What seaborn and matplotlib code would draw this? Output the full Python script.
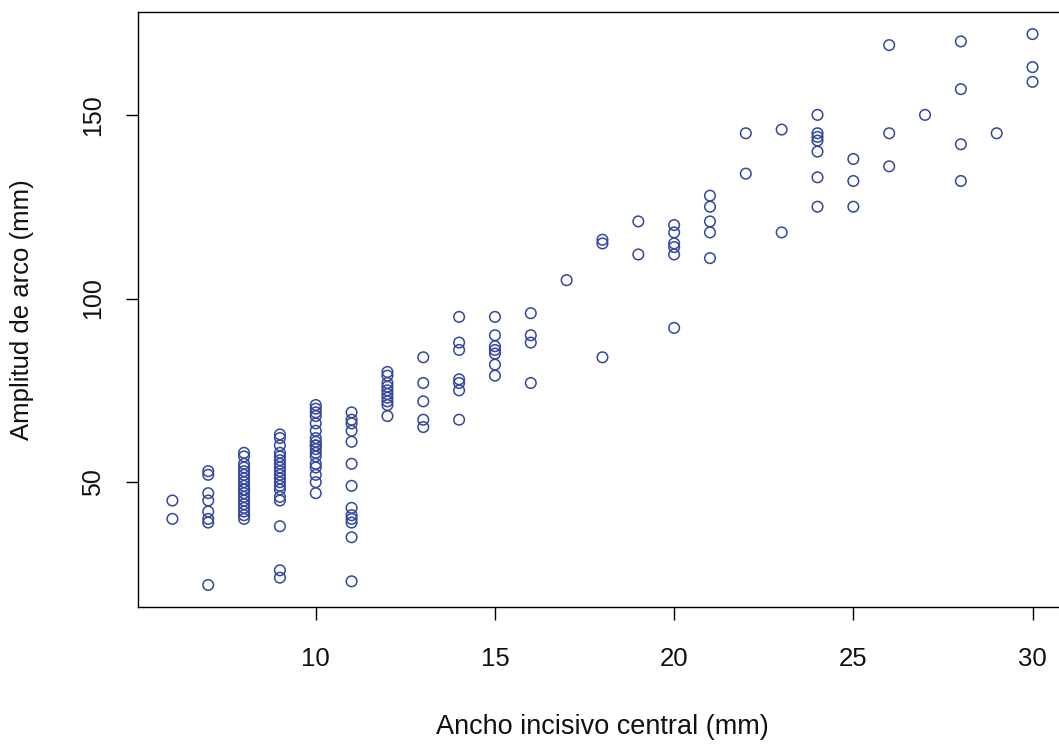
import matplotlib
matplotlib.use("Agg")
import matplotlib.pyplot as plt
import seaborn as sns
import pandas as pd

# Ancho incisivo central (mm) for each subject
ancho = (
    [6] * 2 + [7] * 8 + [8] * 20 + [9] * 19 + [10] * 18 + [11] * 13 + [12] * 10
    + [13] * 5 + [14] * 7 + [15] * 7 + [16] * 4 + [17] * 1 + [18] * 3 + [19] * 2
    + [20] * 6 + [21] * 5 + [22] * 2 + [23] * 2 + [24] * 7 + [25] * 3 + [26] * 3
    + [27] * 1 + [28] * 4 + [29] * 1 + [30] * 3
)

# Amplitud de arco (mm), same order as ancho
amplitud = [
    45, 40,
    53, 52, 47, 45, 42, 40, 39, 22,
    58, 57, 55, 54, 53, 52, 51, 50, 49, 48, 48, 48, 47, 46, 45, 44, 43, 42, 41, 40,
    63, 62, 60, 58, 57, 56, 55, 54, 53, 52, 51, 50, 49, 48, 46, 45, 38, 26, 24,
    71, 70, 69, 68, 66, 64, 62, 61, 60, 60, 59, 58, 57, 55, 54, 52, 50, 47,
    69, 67, 66, 64, 61, 55, 49, 43, 41, 40, 39, 35, 23,
    80, 79, 77, 76, 75, 74, 73, 72, 71, 68,
    84, 77, 72, 67, 65,
    95, 88, 86, 78, 77, 75, 67,
    95, 90, 87, 86, 85, 82, 79,
    96, 90, 88, 77,
    105,
    116, 115, 84,
    121, 112,
    120, 118, 115, 114, 112, 92,
    128, 125, 121, 118, 111,
    145, 134,
    146, 118,
    150, 145, 144, 143, 140, 133, 125,
    138, 132, 125,
    169, 145, 136,
    150,
    170, 157, 142, 132,
    145,
    172, 163, 159,
]

x_ticks = [10, 15, 20, 25, 30]
y_ticks = [50, 100, 150]

df = pd.DataFrame({"ancho": ancho, "amplitud": amplitud})

sns.set_style("ticks")
plt.rcParams["font.family"] = ["Liberation Sans", "DejaVu Sans"]

fig = plt.figure(figsize=(10.59, 7.44), dpi=100)
# plot region runs slightly past the right edge of the canvas
ax = fig.add_axes([0.1303, 0.1841, 0.8772, 0.7997])

point_color = "#34479E"
sns.scatterplot(
    data=df, x="ancho", y="amplitud", ax=ax,
    marker="o", s=58, facecolor="none", edgecolor=point_color, linewidth=1.1,
    legend=False,
)

ax.set_xlim(5.04, 30.96)
ax.set_ylim(16, 178)
ax.set_xticks(x_ticks)
ax.set_yticks(y_ticks)
ax.set_xticklabels([str(t) for t in x_ticks], fontsize=18.5)
ax.set_yticklabels([str(t) for t in y_ticks], fontsize=18, rotation=90, va="center")
ax.tick_params(axis="both", direction="out", length=9, width=1, color="black",
               labelcolor="#111111")
ax.tick_params(axis="x", pad=20)
ax.tick_params(axis="y", pad=15)

for side in ["left", "right", "top", "bottom"]:
    ax.spines[side].set_visible(True)
    ax.spines[side].set_color("black")
    ax.spines[side].set_linewidth(1.0)

ax.set_xlabel("Ancho incisivo central (mm)", fontsize=19.5, color="#111111", va="center")
ax.set_ylabel("Amplitud de arco (mm)", fontsize=18.5, color="#111111", va="center")
ax.xaxis.set_label_coords(0.5, -0.2017)
ax.yaxis.set_label_coords(-0.1249, 0.5)

fig.savefig("out.png", dpi=100)
